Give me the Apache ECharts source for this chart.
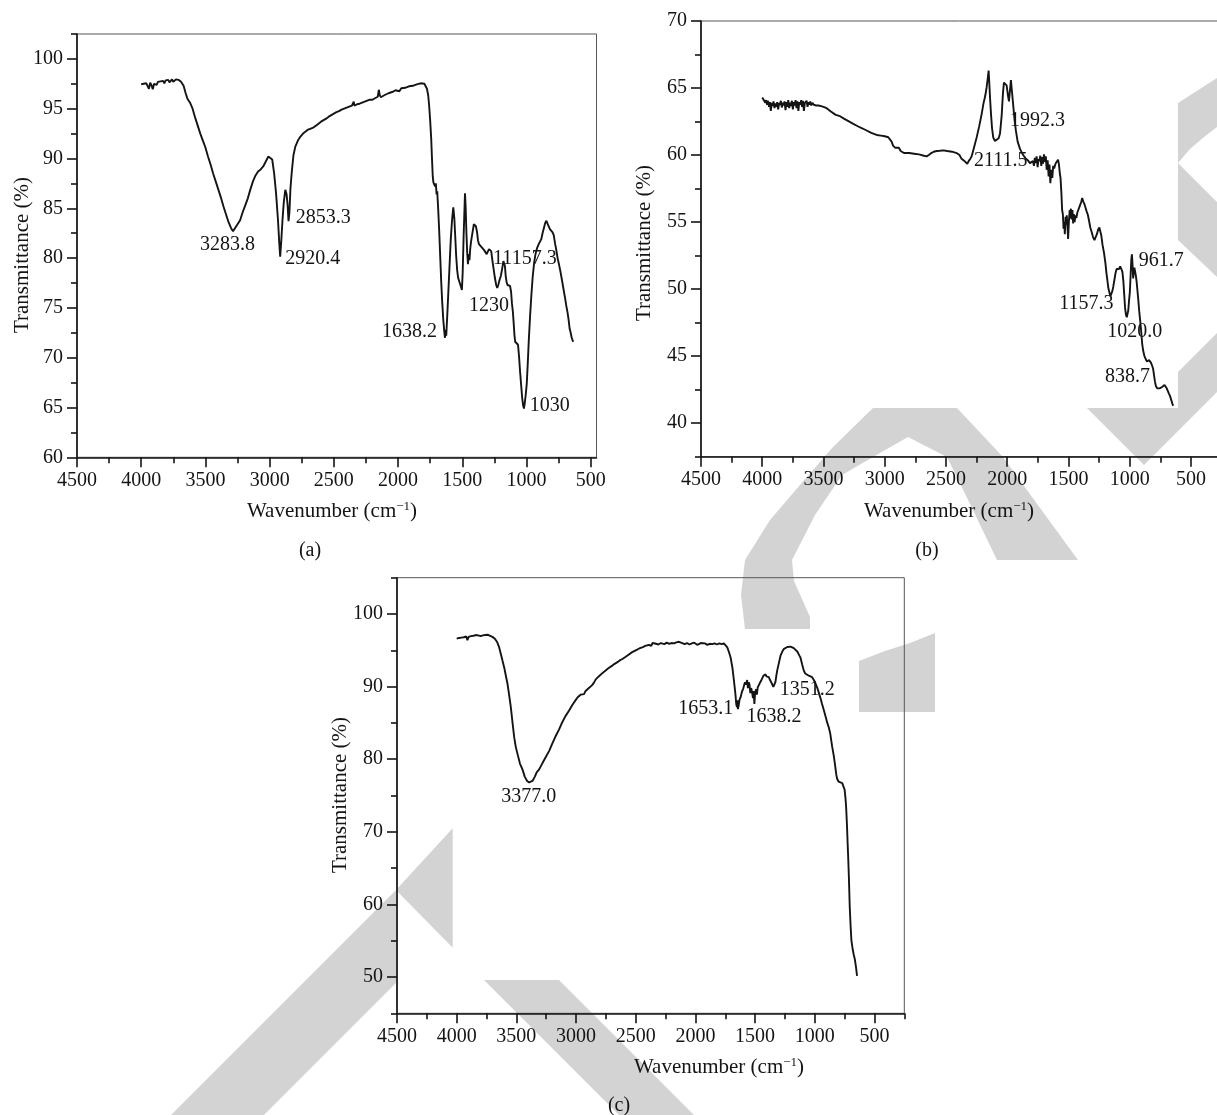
<!DOCTYPE html>
<html><head><meta charset="utf-8">
<script src="https://cdn.jsdelivr.net/npm/echarts@6/dist/echarts.min.js"></script>
<style>html,body{margin:0;padding:0;background:#fff}#c{width:1217px;height:1115px}</style>
</head><body><div id="c"></div>
<script>
// ---------------- DATA ----------------
// Panel (a)
const aWave = [4000,3990,3980,3970,3960,3950,3940,3930,3920,3910,3900,3890,3880,3870,3860,3850,3840,3830,3820,3810,3800,3790,3780,3770,3760,3750,3740,3730,3720,3710,3700,3690,3680,3670,3655,3640,3620,3600,3580,3560,3540,3520,3500,3480,3460,3440,3420,3400,3380,3360,3340,3320,3300,3285,3270,3250,3230,3210,3190,3170,3150,3130,3110,3090,3070,3050,3030,3010,2995,2980,2965,2950,2935,2925,2918,2910,2900,2890,2878,2868,2860,2853,2846,2838,2828,2815,2800,2780,2760,2740,2720,2700,2680,2660,2640,2620,2600,2580,2560,2540,2520,2500,2480,2460,2440,2420,2400,2380,2360,2350,2345,2340,2320,2300,2280,2260,2240,2220,2200,2180,2165,2158,2150,2143,2135,2120,2100,2090,2075,2060,2040,2020,2005,1990,1975,1960,1945,1930,1915,1900,1885,1870,1855,1840,1825,1810,1795,1785,1775,1765,1758,1750,1742,1736,1730,1725,1718,1712,1706,1700,1695,1688,1680,1672,1664,1656,1648,1640,1635,1630,1625,1618,1610,1600,1590,1580,1570,1562,1555,1548,1540,1532,1522,1512,1503,1497,1490,1484,1479,1474,1468,1462,1456,1450,1444,1438,1430,1420,1410,1402,1394,1385,1378,1370,1360,1350,1340,1330,1320,1310,1300,1292,1283,1275,1266,1256,1246,1236,1228,1220,1210,1200,1190,1180,1174,1168,1162,1155,1148,1142,1135,1128,1120,1113,1106,1100,1094,1088,1078,1066,1058,1050,1042,1034,1026,1020,1014,1006,998,990,982,972,962,952,940,930,918,905,895,885,875,865,855,845,836,828,818,808,798,788,778,768,758,746,735,724,712,700,690,680,672,664,656,648,640,636];
const aTrans = [97.45,97.38,97.5,97.3,97.55,97.42,97.0,97.6,97.35,96.95,97.5,97.62,97.4,97.7,97.55,97.75,97.6,97.8,97.55,97.85,97.7,97.9,97.65,97.8,97.95,97.7,97.85,97.95,97.75,97.9,97.8,97.7,97.55,97.3,96.6,96.0,95.6,95.0,94.1,93.3,92.5,91.8,91.1,90.2,89.4,88.5,87.7,86.9,86.1,85.2,84.4,83.6,83.0,82.7,82.9,83.4,83.8,84.6,85.3,86.0,86.9,87.7,88.3,88.7,88.9,89.2,89.7,90.2,90.35,89.9,88.5,86.5,83.8,81.5,80.15,81.6,83.8,85.6,86.85,86.4,85.3,83.7,84.6,87.0,88.6,90.3,91.2,91.8,92.2,92.5,92.7,92.9,93.0,93.1,93.3,93.5,93.7,93.85,94.0,94.2,94.35,94.5,94.65,94.75,94.9,95.0,95.1,95.2,95.3,95.1,95.7,95.3,95.45,95.5,95.6,95.7,95.8,95.9,95.9,96.05,96.1,96.2,96.9,96.4,96.15,96.3,96.4,96.2,96.55,96.5,96.7,96.85,96.9,96.75,97.05,97.2,97.1,97.3,97.25,97.35,97.3,97.5,97.45,97.6,97.55,97.65,97.5,97.35,97.0,96.3,95.3,93.8,92.0,90.0,88.2,87.6,87.8,87.2,87.5,86.4,86.7,85.0,82.8,80.2,77.6,75.5,73.8,72.6,72.0,72.8,72.2,74.0,76.2,79.0,81.8,83.8,85.1,84.0,82.2,80.3,78.8,78.0,77.8,77.2,76.8,78.5,82.0,84.5,86.5,85.2,82.6,80.6,79.4,80.4,79.8,81.0,81.8,82.6,83.4,83.6,83.2,82.6,81.8,81.4,81.5,81.1,81.3,80.8,80.9,80.4,80.2,80.9,81.0,80.7,79.8,78.9,78.0,77.3,77.0,77.3,77.8,78.2,78.9,79.7,79.8,79.2,78.2,77.6,77.3,77.15,77.4,77.2,76.6,75.4,74.6,73.5,72.3,71.6,71.5,71.3,70.1,68.6,67.3,66.0,65.2,64.9,65.4,66.3,67.4,69.5,71.8,74.2,76.3,78.1,79.6,80.4,81.0,81.4,81.5,81.9,82.5,83.0,83.5,83.75,83.6,83.2,82.9,82.8,82.6,82.3,81.5,80.8,80.0,79.3,78.6,77.8,76.9,76.0,75.2,74.5,73.8,72.9,72.5,72.0,71.7,71.6];
const aPeakText = ['3283.8','2920.4','2853.3','1638.2','1230','11157.3','1030'];

// Panel (b)
const bWave = [4000,3990,3982,3975,3968,3960,3952,3945,3938,3930,3922,3915,3908,3900,3892,3885,3878,3870,3862,3855,3848,3840,3832,3825,3818,3810,3802,3795,3788,3780,3772,3765,3758,3750,3742,3735,3728,3720,3712,3705,3698,3690,3682,3675,3668,3660,3652,3645,3638,3630,3622,3615,3608,3600,3590,3580,3570,3560,3550,3540,3530,3520,3500,3474,3440,3400,3365,3330,3300,3257,3220,3180,3148,3110,3066,3030,3000,2971,2955,2944,2932,2916,2900,2885,2870,2855,2843,2800,2760,2720,2680,2658,2640,2620,2600,2576,2550,2522,2490,2450,2413,2390,2375,2365,2355,2340,2326,2315,2300,2291,2270,2250,2230,2210,2195,2180,2168,2158,2152,2146,2140,2132,2124,2114,2100,2086,2070,2059,2045,2035,2027,2015,2005,1995,1986,1978,1970,1962,1950,1940,1929,1915,1896,1870,1850,1830,1815,1800,1790,1782,1775,1768,1760,1752,1745,1738,1730,1722,1715,1708,1700,1692,1685,1678,1670,1662,1655,1648,1640,1632,1625,1617,1608,1600,1592,1585,1578,1570,1565,1558,1552,1546,1540,1534,1530,1524,1518,1514,1508,1503,1497,1490,1485,1480,1475,1468,1462,1456,1450,1443,1436,1428,1420,1412,1404,1396,1388,1380,1372,1362,1352,1342,1332,1322,1312,1300,1288,1278,1268,1258,1248,1240,1232,1222,1210,1198,1190,1183,1175,1165,1157,1150,1142,1134,1125,1116,1107,1098,1088,1078,1068,1060,1052,1045,1038,1031,1024,1018,1012,1006,999,993,987,982,977,972,967,962,956,950,943,936,930,922,914,906,898,890,880,870,860,850,842,834,826,818,810,802,794,786,776,766,756,746,736,726,716,706,698,690,680,670,660,650,645];
const bTrans = [64.3,64.15,64.2,63.9,64.1,63.75,64.05,63.6,63.95,63.3,63.9,63.65,64.0,63.5,63.85,63.6,63.95,63.4,63.9,63.75,64.05,63.55,63.9,63.7,64.0,63.35,63.95,63.6,64.1,63.5,63.9,63.65,64.05,63.4,63.95,63.7,64.1,63.5,64.0,63.3,63.95,63.75,64.1,63.6,64.05,63.3,63.9,63.8,64.05,63.6,63.95,63.75,64.0,63.7,63.9,63.75,63.85,63.7,63.75,63.7,63.68,63.65,63.6,63.5,63.25,63.0,62.9,62.7,62.55,62.33,62.15,61.98,61.83,61.65,61.5,61.45,61.4,61.33,61.2,61.0,60.7,60.55,60.6,60.55,60.3,60.2,60.15,60.15,60.1,60.05,59.95,59.9,60.0,60.15,60.25,60.3,60.32,60.35,60.3,60.25,60.15,60.0,59.75,59.85,59.6,59.5,59.35,59.55,59.75,59.9,60.6,61.3,62.1,63.0,63.8,64.4,65.06,65.8,66.3,65.3,64.2,63.0,62.0,61.3,61.05,61.1,61.25,61.6,63.0,64.6,65.4,65.35,65.2,64.5,64.0,64.8,65.6,64.8,63.6,62.6,61.8,61.0,60.46,60.0,59.75,59.6,59.4,59.3,59.55,59.2,59.8,59.4,59.9,59.1,59.7,59.55,59.95,59.2,59.85,59.35,60.05,59.5,59.9,58.9,59.6,58.4,59.3,57.9,58.9,58.3,59.2,59.0,59.3,59.45,59.55,59.65,59.3,58.6,58.3,57.2,55.9,55.6,54.5,55.0,54.1,55.4,54.8,55.5,54.6,53.75,55.0,55.9,55.3,56.0,55.2,55.9,54.9,55.6,55.0,55.5,55.3,55.7,55.9,56.1,56.3,56.5,56.8,56.55,56.4,56.1,55.8,55.55,55.1,54.6,54.3,53.9,53.65,53.7,54.1,54.45,54.6,54.5,54.0,53.3,52.7,51.9,51.2,50.7,50.1,49.7,49.5,49.6,49.85,50.2,50.7,51.2,51.5,51.4,51.5,51.7,51.6,51.3,50.6,49.6,48.6,48.1,47.9,47.9,48.4,49.1,49.8,51.0,52.2,52.6,51.8,50.8,51.3,51.6,51.5,51.0,50.5,49.8,49.2,48.3,47.6,46.8,45.9,45.4,45.0,44.8,44.6,44.7,44.7,44.6,44.5,44.3,44.1,43.6,43.1,42.75,42.6,42.6,42.6,42.55,42.7,42.8,42.85,42.85,42.6,42.5,42.2,42.0,41.7,41.4,41.3];
const bPeakText = ['1992.3','2111.5','961.7','1157.3','1020.0','838.7'];

// Panel (c)
const cWave = [4000,3990,3980,3970,3960,3950,3940,3930,3920,3910,3900,3890,3880,3870,3860,3850,3840,3830,3820,3810,3800,3790,3780,3770,3760,3750,3740,3730,3720,3710,3700,3690,3680,3672,3660,3644,3630,3616,3600,3588,3574,3560,3546,3532,3518,3505,3490,3470,3449,3430,3410,3393,3380,3365,3345,3330,3309,3280,3250,3225,3200,3170,3142,3120,3090,3058,3030,3005,2988,2960,2945,2933,2920,2905,2890,2875,2865,2850,2835,2810,2780,2760,2740,2723,2700,2680,2650,2630,2612,2590,2560,2530,2500,2470,2440,2420,2389,2370,2360,2350,2330,2310,2290,2277,2260,2240,2220,2200,2180,2160,2145,2138,2125,2110,2090,2070,2050,2030,2010,1998,1985,1970,1955,1940,1920,1900,1880,1859,1840,1820,1800,1780,1761,1745,1733,1720,1705,1690,1677,1665,1658,1652,1648,1644,1638,1630,1622,1610,1600,1594,1585,1575,1567,1560,1553,1547,1540,1533,1525,1518,1512,1506,1500,1492,1485,1478,1469,1460,1450,1441,1430,1420,1413,1405,1395,1385,1375,1365,1357,1347,1337,1330,1322,1315,1300,1287,1270,1258,1245,1230,1215,1203,1190,1176,1162,1145,1130,1120,1105,1092,1080,1064,1050,1036,1022,1008,995,981,965,950,939,925,910,895,883,870,855,841,830,820,813,800,785,770,757,750,742,737,730,725,720,714,707,700,693,684,674,664,654,646];
const cTrans = [96.6,96.55,96.7,96.6,96.75,96.5,96.8,96.65,96.9,96.4,96.85,96.7,96.95,96.8,97.0,96.85,97.1,96.9,97.05,97.15,96.95,97.2,97.05,97.25,97.1,97.3,97.15,97.25,97.0,97.1,96.85,96.8,96.6,96.5,96.1,95.4,94.5,93.55,92.5,91.5,90.35,88.8,87.1,85.0,83.0,81.7,80.7,79.4,78.6,77.6,77.0,76.8,76.7,77.0,77.6,78.2,78.6,79.5,80.4,81.15,82.1,83.2,84.1,84.95,85.9,86.7,87.5,88.1,88.5,88.9,88.85,88.96,89.4,89.65,89.85,89.8,90.2,90.55,91.0,91.4,91.85,92.1,92.4,92.6,92.85,93.1,93.4,93.65,93.8,94.05,94.4,94.75,95.0,95.25,95.45,95.6,95.76,95.6,96.0,95.8,95.9,95.8,96.0,95.94,95.85,96.05,95.9,96.0,95.95,96.1,96.3,96.17,95.95,96.0,95.85,96.0,95.8,95.95,96.05,95.94,95.75,95.9,96.0,95.8,95.95,95.75,95.9,95.85,95.95,95.8,95.95,95.85,95.94,95.7,95.4,94.8,94.0,92.6,90.8,89.0,87.6,87.2,88.1,86.9,87.4,88.2,88.5,89.3,89.7,89.9,90.6,90.3,90.9,89.8,90.6,90.3,89.1,89.8,89.2,88.4,89.4,87.6,89.1,89.65,88.9,89.9,89.9,90.5,90.8,91.05,91.5,91.6,91.7,91.4,91.5,91.3,90.9,90.6,90.35,89.95,89.9,90.6,91.5,92.2,93.3,94.25,94.9,95.2,95.3,95.45,95.5,95.5,95.4,95.3,95.2,94.8,94.3,94.0,93.0,92.2,91.8,91.6,91.5,91.35,91.3,90.9,90.5,89.9,89.1,88.3,87.6,86.8,85.9,85.0,84.4,83.5,81.8,80.5,79.2,77.9,77.3,76.9,76.8,76.7,76.5,75.8,74.5,73.3,70.8,68.5,66.45,63.6,59.6,57.1,55.0,54.0,53.1,52.4,51.3,50.15];
const cPeakText = ['3377.0','1653.1','1638.2','1351.2'];

// Tick values
const xMajorTicks = [4500,4000,3500,3000,2500,2000,1500,1000,500];
const xMinorTicks = [4250,3750,3250,2750,2250,1750,1250,750,250];
const aYMajorTicks = [60,65,70,75,80,85,90,95,100];
const aYMinorTicks = [62.5,67.5,72.5,77.5,82.5,87.5,92.5,97.5,102.5];
const bYMajorTicks = [40,45,50,55,60,65,70];
const bYMinorTicks = [37.5,42.5,47.5,52.5,57.5,62.5,67.5];
const cYMajorTicks = [50,60,70,80,90,100];
const cYMinorTicks = [45,55,65,75,85,95,105];

// ---------------- LAYOUT ----------------
const FONT = '"Liberation Serif", "Times New Roman", serif';
const INK = '#141414';
const WM = '#d3d3d3';
// anchor (left edge, vertical middle) of each peak label, in data units
const aLabelAt = [[3543,81.3],[2879,79.95],[2796,84.1],[2126,72.6],[1447,75.2],[1260,79.95],[975,65.15]];
const bLabelAt = [[1978,62.55],[2272,59.55],[927,52.1],[1575,48.9],[1183,46.8],[1202,43.45]];
const cLabelAt = [[3627,74.8],[2143,86.9],[1572,85.8],[1293,89.55]];

const grids = [
  {left:77, top:34, width:519.5, height:423.3},
  {left:701, top:21, width:520.6, height:435.7},
  {left:397, top:577.7, width:507.3, height:435.6}
];
const ranges = [
  {x:[455,4500], y:[60,102.5], yMaj:aYMajorTicks, yMin:aYMinorTicks, xMin:xMinorTicks.slice(0,8)},
  {x:[250,4500], y:[37.5,70], yMaj:bYMajorTicks, yMin:bYMinorTicks, xMin:xMinorTicks},
  {x:[250,4500], y:[45,105], yMaj:cYMajorTicks, yMin:cYMinorTicks, xMin:xMinorTicks}
];

const plain = v => String(v);
const xAxes = [], yAxes = [];
ranges.forEach((r, g) => {
  xAxes.push({
    gridIndex:g, type:'value', inverse:true, min:r.x[0], max:r.x[1], position:'bottom',
    axisLine:{show:true, onZero:false, lineStyle:{color:INK, width:1.6}},
    axisTick:{show:true, customValues:xMajorTicks, length:10, lineStyle:{color:INK, width:1.6}},
    axisLabel:{show:true, customValues:xMajorTicks, formatter:plain, margin:13, fontFamily:FONT, fontSize:20, color:INK},
    splitLine:{show:false}
  });
  xAxes.push({
    gridIndex:g, type:'value', inverse:true, min:r.x[0], max:r.x[1], position:'bottom',
    axisLine:{show:false, onZero:false},
    axisTick:{show:true, customValues:r.xMin, length:6, lineStyle:{color:INK, width:1.6}},
    axisLabel:{show:false}, splitLine:{show:false}
  });
  yAxes.push({
    gridIndex:g, type:'value', min:r.y[0], max:r.y[1], position:'left',
    axisLine:{show:true, onZero:false, lineStyle:{color:INK, width:1.6}},
    axisTick:{show:true, customValues:r.yMaj, length:10, lineStyle:{color:INK, width:1.6}},
    axisLabel:{show:true, customValues:r.yMaj, formatter:plain, margin:14, fontFamily:FONT, fontSize:20, color:INK},
    splitLine:{show:false}
  });
  yAxes.push({
    gridIndex:g, type:'value', min:r.y[0], max:r.y[1], position:'left',
    axisLine:{show:false, onZero:false},
    axisTick:{show:true, customValues:r.yMin, length:6, lineStyle:{color:INK, width:1.6}},
    axisLabel:{show:false}, splitLine:{show:false}
  });
});

function lineSeries(g, wave, trans) {
  return {
    type:'line', xAxisIndex:2*g, yAxisIndex:2*g, showSymbol:false, symbol:'none',
    data: wave.map((w,i)=>[w, trans[i]]),
    lineStyle:{color:INK, width:1.9}, itemStyle:{color:INK}, silent:true, z:3
  };
}

function txt(x, y, text, rot, size, align) {
  return {type:'text', x:x, y:y, rotation:rot||0, z:10, silent:true,
    style:{text:text, fontFamily:FONT, fontSize:size||21, fill:INK, opacity:1,
      align:align||'center', verticalAlign:'middle', textAlign:align||'center', textVerticalAlign:'middle',
      rich:{sup:{fontFamily:FONT, fontSize:13, fill:INK, verticalAlign:'top', lineHeight:12}}}};
}
// background watermark pieces (pixel layout of the page decoration)
const watermark = [
  [[1178,103],[1217,78],[1217,127],[1204,137],[1190,149],[1178,163]],
  [[1178,163],[1217,202],[1217,277],[1178,240]],
  [[1217,333],[1178,372],[1178,408],[1087,408],[1144,465],[1217,392]],
  [[745,629],[741,595],[745,560],[770,520],[800,485],[833,447],[873,408],[957,408],[1003,457],[1040,508],[1078,560],[997,560],[972,508],[947,457],[908,437],[873,457],[842,475],[815,515],[792,560],[794,581],[810,617],[810,629]],
  [[859,712],[859,661],[885,651],[910,643],[935,633],[935,712]],
  [[452.7,828.3],[452.7,947.7],[396,890]],
  [[484,980],[559,980],[694,1115],[619,1115]],
  [[396,890],[171,1115],[264,1115],[396,983]]
];
const wn = 'Wavenumber (cm{sup|\u22121})';
const graphics = watermark.map(pts => ({type:'polygon', z:-10, silent:true, shape:{points:pts}, style:{fill:WM}})).concat([
  txt(22, 255, 'Transmittance (%)', Math.PI/2),
  txt(332, 511, wn),
  txt(310, 551, '(a)', 0, 20),
  txt(644, 243, 'Transmittance (%)', Math.PI/2),
  txt(949, 511, wn),
  txt(927, 551, '(b)', 0, 20),
  txt(340, 795, 'Transmittance (%)', Math.PI/2),
  txt(719, 1067, wn),
  txt(619, 1106, '(c)', 0, 20)
]);

const chart = echarts.init(document.getElementById('c'), null, {renderer:'canvas'});
chart.setOption({
  animation:false,
  backgroundColor:'#ffffff',
  grid: grids.map(g => Object.assign({show:true, borderColor:'#555', borderWidth:1, backgroundColor:'transparent', containLabel:false, outerBoundsMode:'none'}, g)),
  xAxis: xAxes,
  yAxis: yAxes,
  series: [
    lineSeries(0, aWave, aTrans),
    lineSeries(1, bWave, bTrans),
    lineSeries(2, cWave, cTrans)
  ],
  graphic: graphics
});

// peak annotations: data-space anchors converted through each panel's own axes
const peakSets = [[aPeakText, aLabelAt], [bPeakText, bLabelAt], [cPeakText, cLabelAt]];
const peakGraphics = [];
peakSets.forEach(([texts, anchors], g) => {
  texts.forEach((t, i) => {
    const p = chart.convertToPixel({xAxisIndex:2*g, yAxisIndex:2*g}, anchors[i]);
    peakGraphics.push(txt(p[0], p[1], t, 0, 20, 'left'));
  });
});
chart.setOption({graphic: graphics.concat(peakGraphics)});
</script>
</body></html>
